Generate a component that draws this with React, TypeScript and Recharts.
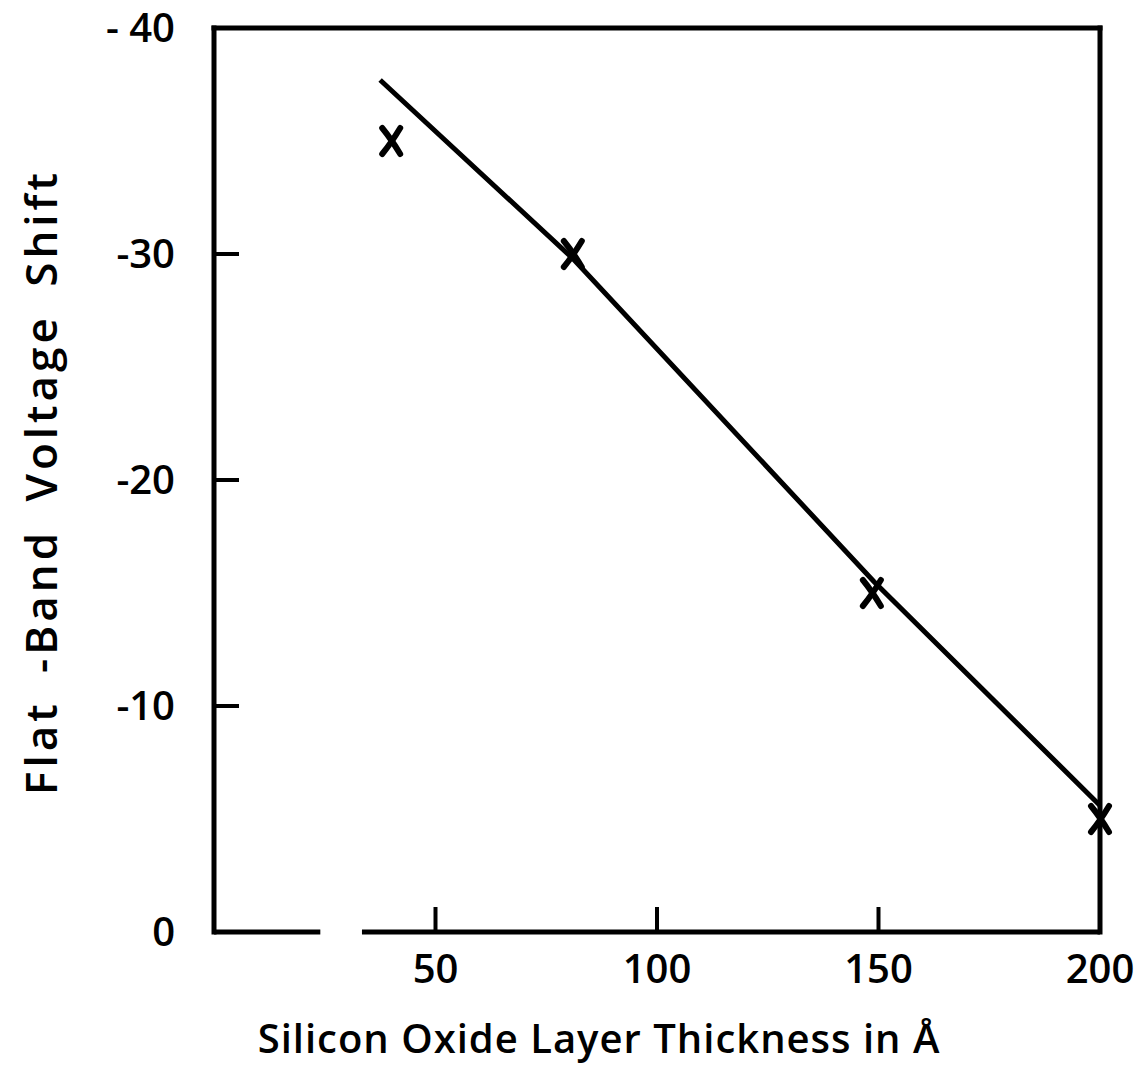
import { ScatterChart, Scatter, XAxis, YAxis, ReferenceLine } from 'recharts'

// measured points (thickness in Å, flat-band shift in V)
const POINT_X = [40, 81, 148.5, 200]
const POINT_Y = [-35, -30, -15, -5]

// hand-drawn fit line
const FIT_X = [37.5, 81, 149, 200]
const FIT_Y = [-37.7, -29.8, -15.5, -5.6]

const X_TICKS = [50, 100, 150, 200]
const X_TICK_LABELS = ['50', '100', '150', '200']
const X_INNER_TICKS = [50, 100, 150]
const Y_TICKS = [0, -10, -20, -30, -40]
const Y_TICK_LABELS = ['0', '-10', '-20', '-30', '- 40']
// the bottom axis line is broken between these thicknesses
const AXIS_BREAK = [24, 33.4]

const X_TITLE = 'Silicon Oxide Layer Thickness in Å'
const Y_TITLE = 'Flat -Band Voltage Shift'

const points = POINT_X.map((x, i) => ({ x, y: POINT_Y[i] }))
const fit = FIT_X.map((x, i) => ({ x, y: FIT_Y[i] }))

const INK = '#000'
const FONT = '"Open Sans", "DejaVu Sans", sans-serif'
const tickFont = { fontSize: 40, fill: INK, fontFamily: FONT, fontWeight: 600 }

function Cross(props: any) {
  const { cx, cy } = props
  if (cx == null || cy == null) return null
  return (
    <g stroke={INK} strokeWidth={6} strokeLinecap="round" fill="none">
      <path d={`M${cx - 9},${cy - 13} Q${cx},${cy - 2} ${cx + 9},${cy + 13}`} />
      <path d={`M${cx + 9},${cy - 13} Q${cx},${cy + 2} ${cx - 9},${cy + 13}`} />
    </g>
  )
}

function XTitle(props: any) {
  const vb = props.viewBox
  return (
    <text
      x={vb.x + vb.width / 2 - 58}
      y={vb.y + vb.height - 16}
      textAnchor="middle"
      fontFamily={FONT}
      fontWeight={600}
      fontSize={40}
      fill={INK}
      style={{ letterSpacing: 1 }}
    >
      {X_TITLE}
    </text>
  )
}

function YTitle(props: any) {
  const vb = props.viewBox
  const x = vb.x + 40
  const y = vb.y + vb.height / 2 + 2
  return (
    <text
      x={x}
      y={y}
      transform={`rotate(-90, ${x}, ${y})`}
      textAnchor="middle"
      dominantBaseline="central"
      fontFamily={FONT}
      fontWeight={600}
      fontSize={44}
      fill={INK}
      style={{ letterSpacing: 4, wordSpacing: 12 }}
    >
      {Y_TITLE}
    </text>
  )
}

export default function App() {
  const frame = { stroke: INK, strokeWidth: 5, strokeLinecap: 'square' as const }
  const tickLine = { stroke: INK, strokeWidth: 4 }

  return (
    <div style={{ position: 'absolute', left: 0, top: 0, background: '#fff', width: 1138, height: 1069 }}>
      <ScatterChart width={1138} height={1069} margin={{ top: 0, right: 0, bottom: 0, left: 0 }}>
        <XAxis
          xAxisId="b"
          dataKey="x"
          type="number"
          domain={[0, 200]}
          ticks={X_TICKS}
          tickFormatter={(v: number) => X_TICK_LABELS[X_TICKS.indexOf(v)] ?? String(v)}
          height={137}
          axisLine={false}
          tickLine={tickLine}
          tickSize={-25}
          tickMargin={48}
          tick={tickFont}
          label={{ content: XTitle }}
        />
        <XAxis
          xAxisId="t"
          orientation="top"
          dataKey="x"
          type="number"
          domain={[0, 200]}
          ticks={X_INNER_TICKS}
          height={28}
          axisLine={frame}
          tickLine={tickLine}
          tickSize={-25}
          tick={false}
        />
        <YAxis
          yAxisId="l"
          dataKey="y"
          type="number"
          domain={[-40, 0]}
          reversed
          ticks={Y_TICKS}
          tickFormatter={(v: number) => Y_TICK_LABELS[Y_TICKS.indexOf(v)] ?? String(v)}
          width={214}
          axisLine={frame}
          tickLine={tickLine}
          tickSize={-25}
          tickMargin={64}
          tick={tickFont}
          label={{ content: YTitle }}
        />
        <YAxis
          yAxisId="r"
          orientation="right"
          type="number"
          domain={[-40, 0]}
          reversed
          ticks={Y_TICKS}
          width={38}
          axisLine={frame}
          tickLine={tickLine}
          tickSize={-25}
          tick={false}
        />
        <ReferenceLine
          xAxisId="b"
          yAxisId="l"
          segment={[{ x: 0, y: 0 }, { x: AXIS_BREAK[0], y: 0 }]}
          stroke={INK}
          strokeWidth={5}
        />
        <ReferenceLine
          xAxisId="b"
          yAxisId="l"
          segment={[{ x: AXIS_BREAK[1], y: 0 }, { x: 200, y: 0 }]}
          stroke={INK}
          strokeWidth={5}
        />
        <Scatter
          xAxisId="b"
          yAxisId="l"
          data={fit}
          line={{ stroke: INK, strokeWidth: 5 }}
          shape={() => <g />}
          isAnimationActive={false}
        />
        <Scatter
          xAxisId="b"
          yAxisId="l"
          data={points}
          shape={Cross}
          isAnimationActive={false}
        />
      </ScatterChart>
    </div>
  )
}
